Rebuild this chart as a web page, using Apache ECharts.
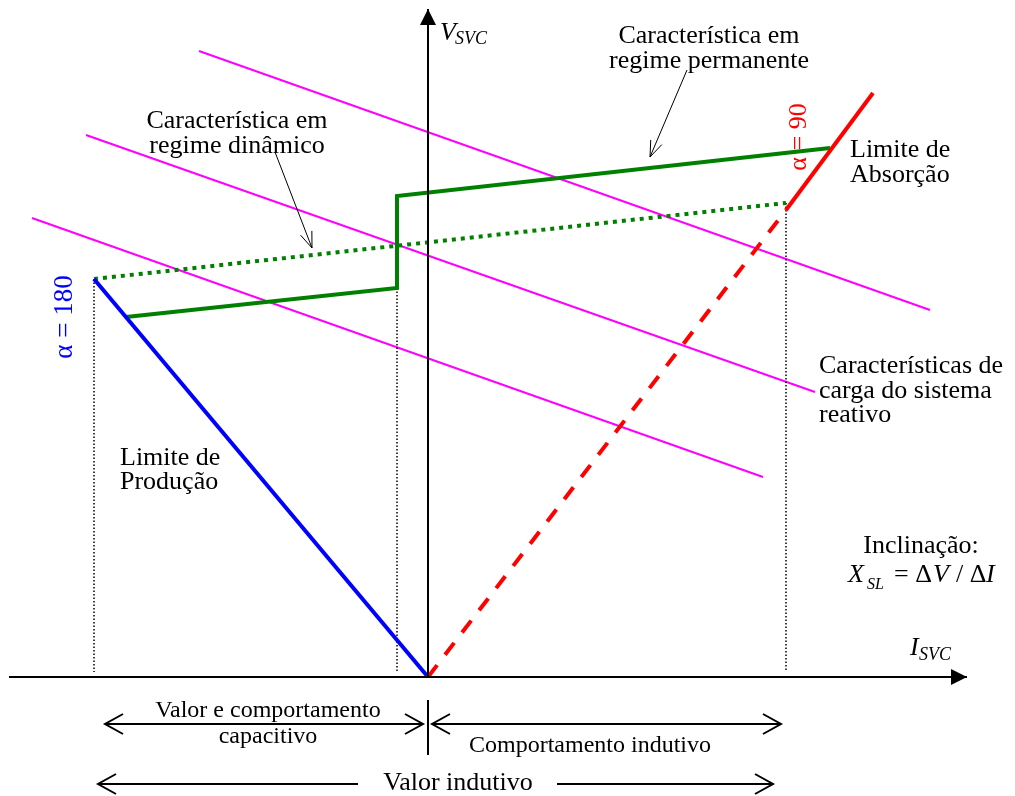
<!DOCTYPE html>
<html>
<head>
<meta charset="utf-8">
<title>Característica V-I do SVC</title>
<script src="https://cdn.jsdelivr.net/npm/echarts@6/dist/echarts.min.js"></script>
<style>
  html, body { margin: 0; padding: 0; background: #ffffff; }
  #chart { width: 1015px; height: 796px; }
</style>
</head>
<body>
<div id="chart"></div>
<script>
// Plane I_SVC (x) versus V_SVC (y); origin at the axes crossing.
const xRange = [-428, 587];
const yRange = [-119, 677];

// System load characteristics (three parallel lines)
const loadLines = [
  [[-229, 626], [502, 367]],
  [[-342, 542], [387, 285]],
  [[-396, 459], [335, 200]]
];
// Steady-state characteristic
const steadyState = [[-302, 360], [-31, 389], [-31, 481], [402, 529]];
// Dynamic characteristic
const dynamicChar = [[-334, 398], [358, 474]];
// Production limit (alpha = 180)
const productionLimit = [[-334, 398], [0, 0]];
// Absorption limit (alpha = 90): dashed part and solid part
const absorptionDashed = [[0, 0], [358, 467]];
const absorptionLimit = [[358, 467], [445, 584]];
// Dotted projection lines down to the I axis
const guideLines = [
  [[-334, 398], [-334, 5]],
  [[-31, 389], [-31, 5]],
  [[358, 474], [358, 5]]
];
// Coordinate axes [x1, y1, x2, y2]
const axes = [[-419, 0, 539, 0], [0, 0, 0, 668]];
// Pointer arrows from the labels to the curves
const pointers = [[-153, 525, -116, 429], [259, 607, 222, 520]];
// Span arrows below the I axis [x1, y1, x2, y2, both ends?]
const spans = [
  [-323, -47, -5, -47, 1],
  [4, -47, 353, -47, 1],
  [-70, -107, -330, -107, 0],
  [129, -107, 345, -107, 0]
];
const separator = [[0, -23], [0, -78]];

const SERIF = '"Liberation Serif", "Times New Roman", serif';

function lineSeries(data, color, width, type) {
  return {
    type: 'line', data: data, symbol: 'none', silent: true,
    lineStyle: { color: color, width: width, type: type || 'solid', cap: 'butt', join: 'miter' },
    z: 3
  };
}

function arrowSeries(data, opts) {
  return {
    type: 'custom', data: data, silent: true, z: opts.z || 4,
    renderItem: function (params, api) {
      const a = api.coord([api.value(0), api.value(1)]);
      const b = api.coord([api.value(2), api.value(3)]);
      const both = api.value(4) === 1;
      const children = [{
        type: 'line',
        shape: { x1: a[0], y1: a[1], x2: b[0], y2: b[1] },
        style: { stroke: '#000', lineWidth: opts.width }
      }];
      function head(tip, from) {
        const dx = tip[0] - from[0], dy = tip[1] - from[1];
        const len = Math.sqrt(dx * dx + dy * dy);
        const ux = dx / len, uy = dy / len;
        const nx = -uy, ny = ux;
        const bx = tip[0] - ux * opts.len, by = tip[1] - uy * opts.len;
        const p1 = [bx + nx * opts.half, by + ny * opts.half];
        const p2 = [bx - nx * opts.half, by - ny * opts.half];
        if (opts.filled) {
          return { type: 'polygon', shape: { points: [tip, p1, p2] }, style: { fill: '#000' } };
        }
        return { type: 'polyline', shape: { points: [p1, tip, p2] },
                 style: { stroke: '#000', lineWidth: opts.width, fill: null } };
      }
      children.push(head(b, a));
      if (both) children.push(head(a, b));
      return { type: 'group', children: children };
    }
  };
}

const series = [];
loadLines.forEach(function (l) { series.push(lineSeries(l, '#ff00ff', 2)); });
guideLines.forEach(function (g) { series.push(lineSeries(g, '#000000', 1.5, [1.5, 2])); });
series.push(lineSeries(steadyState, '#008000', 4));
series.push(lineSeries(dynamicChar, '#008000', 4, [4, 5]));
series.push(lineSeries(productionLimit, '#0000ff', 4));
series.push(lineSeries(absorptionDashed, '#ff0000', 4, [15, 13]));
series.push(lineSeries(absorptionLimit, '#ff0000', 4));
series.push(lineSeries(separator, '#000000', 2));
series.push(arrowSeries(axes.map(function (d) { return d.concat([0]); }), { width: 2, len: 16, half: 8, filled: true, z: 5 }));
series.push(arrowSeries(pointers.map(function (d) { return d.concat([0]); }), { width: 1, len: 16, half: 6 }));
series.push(arrowSeries(spans, { width: 2, len: 18, half: 10 }));

// Text helper: positions given by baseline
function txt(s, x, base, o) {
  o = o || {};
  const size = o.size || 26;
  return {
    type: 'text', silent: true, z: 10,
    x: x, y: base - size * 0.27,
    rotation: o.rotation || 0,
    style: {
      text: s, fill: o.color || '#000',
      font: (o.italic ? 'italic ' : '') + size + 'px ' + SERIF,
      align: o.align || 'left', verticalAlign: 'middle'
    }
  };
}

const texts = [
  txt('Característica em', 237, 128, { align: 'center' }),
  txt('regime dinâmico', 237, 153, { align: 'center' }),
  txt('Característica em', 709, 43, { align: 'center' }),
  txt('regime permanente', 709, 68, { align: 'center' }),
  txt('Limite de', 850, 157),
  txt('Absorção', 850, 182),
  txt('Limite de', 120, 465),
  txt('Produção', 120, 489),
  txt('Características de', 819, 373),
  txt('carga do sistema', 819, 398),
  txt('reativo', 819, 422),
  txt('Inclinação:', 921, 553, { align: 'center' }),
  txt('X', 848, 582, { italic: true }),
  txt('SL', 867, 589, { italic: true, size: 16 }),
  txt('= Δ', 894, 582),
  txt('V', 933, 582, { italic: true }),
  txt('/ Δ', 956, 582),
  txt('I', 986, 582, { italic: true }),
  txt('I', 910, 655, { italic: true }),
  txt('SVC', 919, 660, { italic: true, size: 18 }),
  txt('V', 440, 40, { italic: true }),
  txt('SVC', 455, 44, { italic: true, size: 18 }),
  txt('Valor e comportamento', 268, 717, { align: 'center', size: 24 }),
  txt('capacitivo', 268, 743, { align: 'center', size: 24 }),
  txt('Comportamento indutivo', 590, 752, { align: 'center', size: 24 }),
  txt('Valor indutivo', 458, 790, { align: 'center' })
];
// Rotated alpha labels
texts.push({
  type: 'text', silent: true, z: 10, x: 65, y: 317, rotation: Math.PI / 2,
  style: { text: 'α = 180', fill: '#0000ff', font: '27px ' + SERIF, align: 'center', verticalAlign: 'middle' }
});
texts.push({
  type: 'text', silent: true, z: 10, x: 799, y: 137, rotation: Math.PI / 2,
  style: { text: 'α = 90', fill: '#ff0000', font: '26px ' + SERIF, align: 'center', verticalAlign: 'middle' }
});

const chart = echarts.init(document.getElementById('chart'), null, { renderer: 'canvas' });
chart.setOption({
  animation: false,
  backgroundColor: '#ffffff',
  grid: { left: 0, right: 0, top: 0, bottom: 0 },
  xAxis: { type: 'value', min: xRange[0], max: xRange[1], show: false },
  yAxis: { type: 'value', min: yRange[0], max: yRange[1], show: false },
  series: series,
  graphic: texts
});
</script>
</body>
</html>
